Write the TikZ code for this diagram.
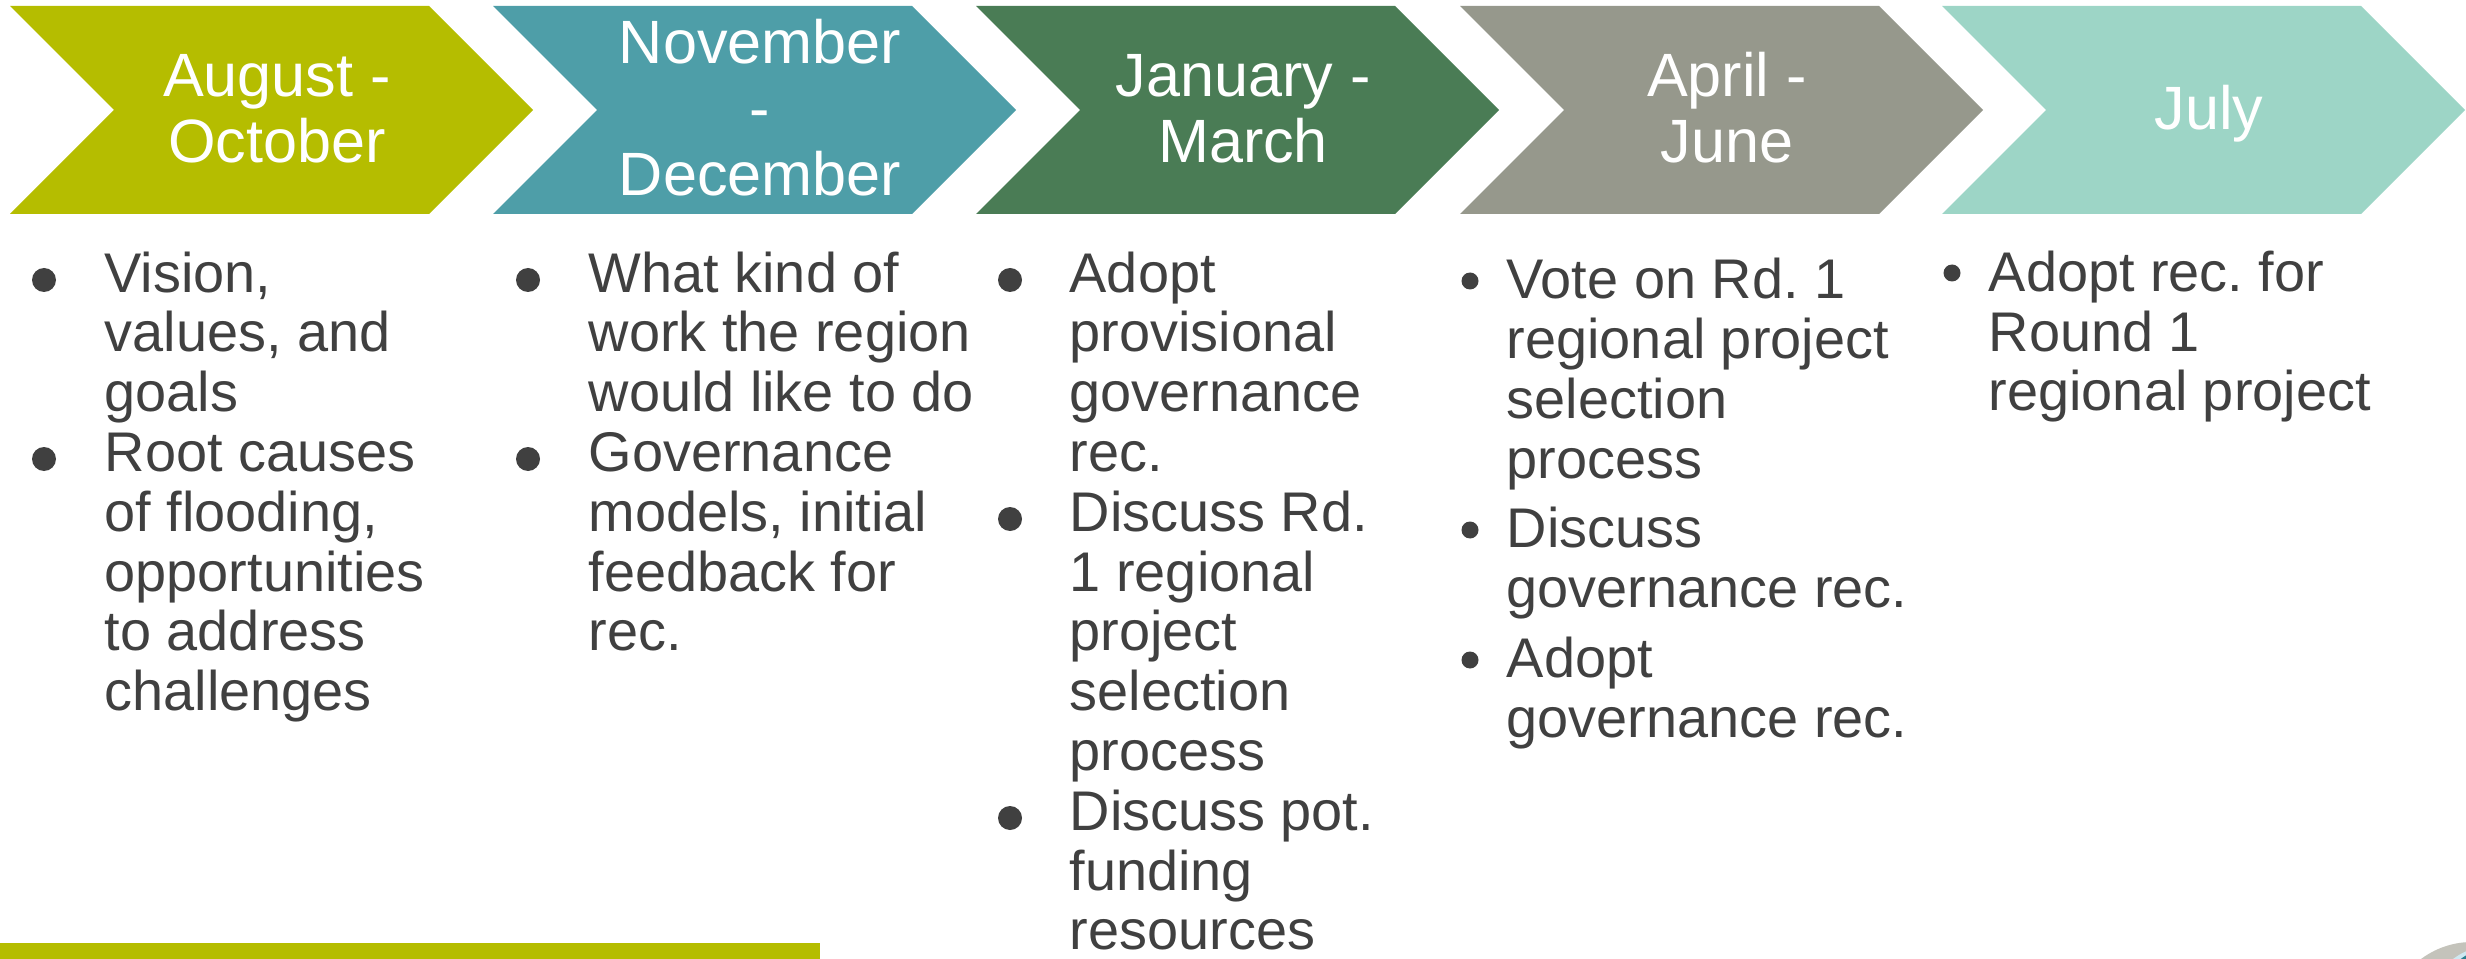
\documentclass[tikz,border=0pt]{standalone}
\usepackage{fontspec}
\setmainfont{Liberation Sans}
\frenchspacing
\definecolor{cAugOct}{HTML}{B5BD00}
\definecolor{cNovDec}{HTML}{4E9EA8}
\definecolor{cJanMar}{HTML}{4A7C55}
\definecolor{cAprJun}{HTML}{96988C}
\definecolor{cJul}{HTML}{9DD5C6}
\definecolor{cText}{HTML}{404040}
\definecolor{cLogo}{HTML}{C4C3BB}
\definecolor{cSky}{HTML}{CFE8F1}
\definecolor{cTeal}{HTML}{2E7E8E}
\tikzset{
  phase/.style={anchor=base, text=white, align=center, inner sep=0pt, font=\fontsize{17.4pt}{18.8pt}\selectfont},
  item/.style={anchor=base west, align=left, text=cText, inner sep=0pt, font=\fontsize{15.9pt}{17pt}\selectfont},
  bigdot/.style={circle, fill=cText, inner sep=0pt, minimum size=0.24cm},
  smalldot/.style={circle, fill=cText, inner sep=0pt, minimum size=0.17cm}
}
\begin{document}
\begin{tikzpicture}
                \useasboundingbox (0,0) rectangle (24.66,-9.59);

                % chevrons
                \foreach \x/\c in {0.10/cAugOct, 4.93/cNovDec, 9.76/cJanMar, 14.60/cAprJun, 19.42/cJul}
                  \fill[\c] (\x,-0.06) -- ++(4.19,0) -- ++(1.04,-1.04) -- ++(-1.04,-1.04) -- ++(-4.19,0) -- ++(1.04,1.04) -- cycle;

                % labels sit on the baseline of their last line
                \node[phase] (aug) at (2.77,-1.63) {August -\\October};
                \node[phase] (nov) at (7.60,-1.96) {November\\-\\December};
                \node[phase] (jan) at (12.43,-1.63) {January -\\March};
                \node[phase] (apr) at (17.27,-1.63) {April -\\June};
                \node[phase] (jul) at (22.09,-1.30) {July};

                % bullet items
                \node[bigdot] (augA) at (0.44,-2.80) {}; \node[item] (augAt) at (1.04,-4.116) {Vision,\\values, and\\goals};
                \node[bigdot] (augB) at (0.44,-4.59) {}; \node[item] (augBt) at (1.04,-7.106) {Root causes\\of flooding,\\opportunities\\to address\\challenges};

                \node[bigdot] (novA) at (5.28,-2.80) {}; \node[item] (novAt) at (5.88,-4.116) {What kind of\\work the region\\would like to do};
                \node[bigdot] (novB) at (5.28,-4.59) {}; \node[item] (novBt) at (5.88,-6.508) {Governance\\models, initial\\feedback for\\rec.};

                \node[bigdot] (janA) at (10.10,-2.80) {}; \node[item] (janAt) at (10.69,-4.714) {Adopt\\provisional\\governance\\rec.};
                \node[bigdot] (janB) at (10.10,-5.19) {}; \node[item] (janBt) at (10.69,-7.704) {Discuss Rd.\\1 regional\\project\\selection\\process};
                \node[bigdot] (janC) at (10.10,-8.18) {}; \node[item] (janCt) at (10.69,-9.498) {Discuss pot.\\funding\\resources};

                \node[smalldot] (aprA) at (14.70,-2.81) {}; \node[item] (aprAt) at (15.06,-4.78) {Vote on Rd. 1\\regional project\\selection\\process};
                \node[smalldot] (aprB) at (14.70,-5.30) {}; \node[item] (aprBt) at (15.06,-6.07) {Discuss\\governance rec.};
                \node[smalldot] (aprC) at (14.70,-6.60) {}; \node[item] (aprCt) at (15.06,-7.37) {Adopt\\governance rec.};

                \node[smalldot] (julA) at (19.52,-2.73) {}; \node[item] (julAt) at (19.88,-4.11) {Adopt rec. for\\Round 1\\regional project};

                % bottom bar and logo corner
                \fill[cAugOct] (0,-9.43) rectangle (8.20,-9.59);
                \begin{scope}
                  \clip (0,0) rectangle (24.66,-9.59);
                  \fill[cLogo] (24.72,-10.27) circle (0.85);
                  \fill[cSky] (24.95,-10.15) circle (0.70);
                  \fill[cTeal] (25.00,-10.12) circle (0.66);
                \end{scope}
            \end{tikzpicture}
\end{document}
